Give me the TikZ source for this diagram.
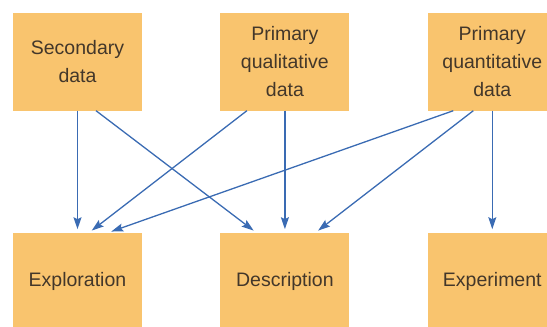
\documentclass[tikz,border=0pt]{standalone}
\usepackage{fontspec}
\setmainfont{Liberation Sans}
\usepackage{xcolor}
\usetikzlibrary{positioning,arrows.meta}
\definecolor{boxorange}{HTML}{F9C46E}
\definecolor{arrowblue}{HTML}{3A6BB3}
\definecolor{boxtext}{HTML}{43372A}

\begin{document}
\begin{tikzpicture}[
      node distance=122pt and 78pt,
      box/.style={rectangle, fill=boxorange, minimum height=98pt, minimum width=129pt, align=center, text=boxtext, font=\fontsize{19.5}{28}\selectfont},
      arr/.style={arrowblue, line width=1.3pt, -{Stealth[length=12pt, width=8pt, inset=2pt]}, shorten >=3.5pt},
    ]
    \useasboundingbox (0,0) rectangle (547pt,-327pt);
    \node[box] (sec) at (77.5pt,-61.5pt) {Secondary\\data};
    \node[box, right=of sec] (qual) {Primary\\qualitative\\data};
    \node[box, right=of qual] (quant) {Primary\\quantitative\\data};
    \node[box, below=of sec] (expl) {Exploration};
    \node[box, below=of qual] (desc) {Description};
    \node[box, below=of quant] (expt) {Experiment};
    \draw[arr] (sec) -- (expl);
    \draw[arr] ([xshift=18.5pt]sec.south) -- ([xshift=-28.5pt]desc.north);
    \draw[arr] ([xshift=-38pt]qual.south) -- ([xshift=11.5pt]expl.north);
    \draw[arr] (qual) -- (desc);
    \draw[arr] ([xshift=-39pt]quant.south) -- ([xshift=30.5pt]expl.north);
    \draw[arr] ([xshift=-19pt]quant.south) -- ([xshift=30.5pt]desc.north);
    \draw[arr] (quant) -- (expt);
  \end{tikzpicture}
\end{document}
